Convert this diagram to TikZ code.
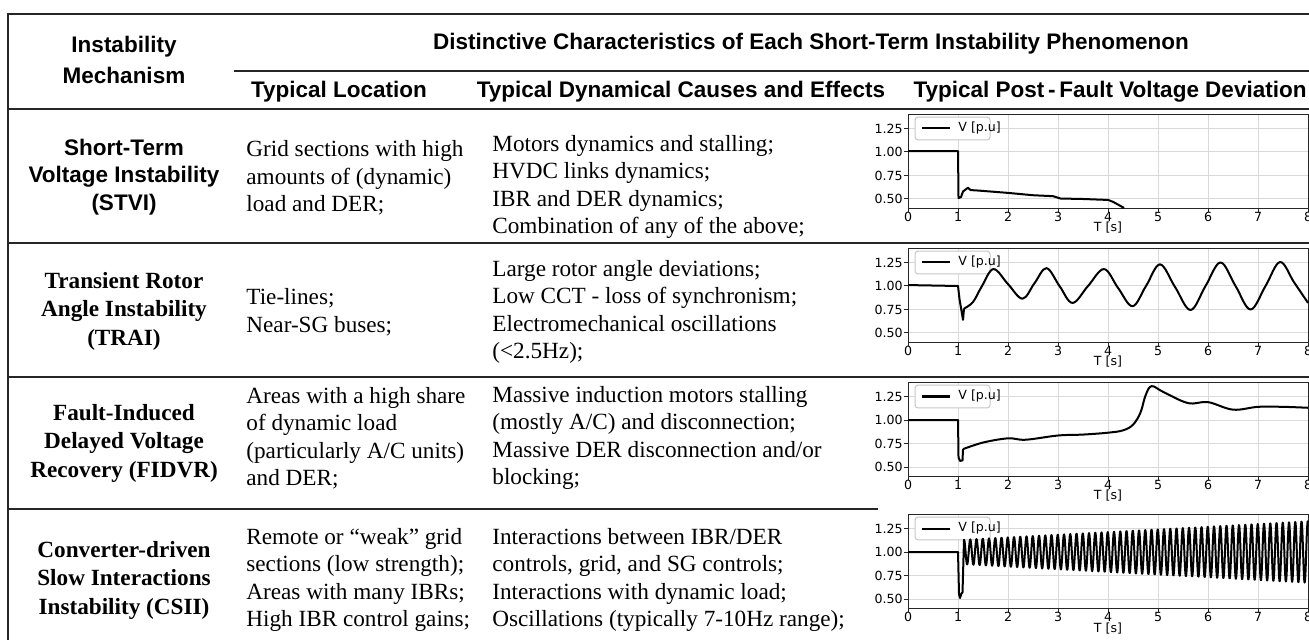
\documentclass[tikz,border=0pt]{standalone}
\usepackage{fontspec}
\setmainfont{Liberation Serif}
\newfontfamily\arialfont{Liberation Sans}
\newfontfamily\plotfont{DejaVu Sans}
\tikzstyle{heading} = [font=\arialfont\bfseries\fontsize{11.25}{15.5}\selectfont, align=center, inner sep=0pt]
\tikzstyle{mechsans} = [font=\arialfont\bfseries\fontsize{11.25}{13.75}\selectfont, align=center, inner sep=0pt]
\tikzstyle{mechserif} = [font=\bfseries\fontsize{11.6}{14.25}\selectfont, align=center, inner sep=0pt]
\tikzstyle{cell} = [font=\fontsize{11.6}{13.75}\selectfont, align=left, anchor=west, inner sep=0pt]
\tikzstyle{rule} = [line width=0.9pt, black!85]
\tikzstyle{gridline} = [line width=0.5pt, black!15]
\tikzstyle{axisframe} = [line width=0.5pt, black!85]
\tikzstyle{trace} = [line width=1pt, black, line join=round]
\tikzstyle{ticklabel} = [font=\plotfont\fontsize{6.3}{7.5}\selectfont, inner sep=0pt]

\newcommand{\voltplot}[3]{%
  \begin{scope}[shift={(454pt,{-0.5pt*(#1+47)})}, x=25pt, y=47pt]
    \foreach \tx in {0,...,8}
      \draw[gridline] (\tx,0.404) -- (\tx,1.4);
    \foreach \vy in {0.5,0.75,1,1.25}
      \draw[gridline] (0,\vy) -- (8,\vy);
    \draw[axisframe] (0,0.404) rectangle (8,1.4);
    \foreach \tx in {0,...,8}{
      \draw[axisframe] (\tx,0.404) -- ++(0,-2pt);
      \node[ticklabel, anchor=north] (#2x\tx) at (\tx,0.36) {\tx};
    }
    \foreach \vy/\lab/\k in {0.5/0.50/a,0.75/0.75/b,1/1.00/c,1.25/1.25/d}{
      \draw[axisframe] (-0.09,\vy) -- (0,\vy);
      \node[ticklabel, anchor=east] (#2y\k) at (-0.1,\vy) {\lab};
    }
    \node[ticklabel, anchor=north, yshift=-7pt] (#2lab) at (4,0.404) {T [s]};
    \draw[line width=0.5pt, black!22, fill=white, rounded corners=1.5pt] (0.14,1.128) rectangle (1.64,1.372);
    \draw[trace] (0.28,1.25) -- (0.84,1.25);
    \node[ticklabel, anchor=west] (#2leg) at (1.0,1.25) {V [p.u]};
    \draw[trace] #3;
  \end{scope}}

\begin{document}
\begin{tikzpicture}[x=0.5pt, y=-0.5pt]
                \useasboundingbox (0,0) rectangle (1309,640);

                \draw[rule] (8,640) -- (8,14) -- (1309,14);
                \draw[line width=0.7pt, black!85] (234,71) -- (1309,71);
                \draw[line width=1.4pt, black!85] (8,109) -- (1309,109);
                \draw[rule] (8,243) -- (1309,243);
                \draw[rule] (8,377) -- (1309,377);
                \draw[rule] (8,509) -- (878,509);

                \node[heading] (mech) at (124,60) {Instability\\Mechanism};
                \node[heading] (distinct) at (811,44) {Distinctive Characteristics of Each Short-Term Instability Phenomenon};
                \node[heading] (loc) at (339,92) {Typical Location};
                \node[heading] (cause) at (681,92) {Typical Dynamical Causes and Effects};
                \node[heading] (dev) at (1110,92) {Typical Post\,-\,Fault Voltage Deviation};

                \node[mechsans] (stvi) at (124,177) {Short-Term\\Voltage Instability\\(STVI)};
                \node[mechserif] (trai) at (124,311) {Transient Rotor\\Angle Instability\\(TRAI)};
                \node[mechserif] (fidvr) at (124,443) {Fault-Induced\\Delayed Voltage\\Recovery (FIDVR)};
                \node[mechserif] (csii) at (124,580) {Converter-driven\\Slow Interactions\\Instability (CSII)};

                \node[cell] (stviloc) at (246,178) {Grid sections with high\\amounts of (dynamic)\\load and DER;};
                \node[cell] (trailoc) at (246,312) {Tie-lines;\\Near-SG buses;};
                \node[cell] (fidvrloc) at (246,438) {Areas with a high share\\of dynamic load\\(particularly A/C units)\\and DER;};
                \node[cell] (csiiloc) at (246,580) {Remote or “weak” grid\\sections (low strength);\\Areas with many IBRs;\\High IBR control gains;};

                \node[cell] (stvicause) at (492,187) {Motors dynamics and stalling;\\HVDC links dynamics;\\IBR and DER dynamics;\\Combination of any of the above;};
                \node[cell] (traicause) at (492,312) {Large rotor angle deviations;\\Low CCT - loss of synchronism;\\Electromechanical oscillations\\(<2.5Hz);};
                \node[cell] (fidvrcause) at (492,438) {Massive induction motors stalling\\(mostly A/C) and disconnection;\\Massive DER disconnection and/or\\blocking;};
                \node[cell] (csiicause) at (492,580) {Interactions between IBR/DER\\controls, grid, and SG controls;\\Interactions with dynamic load;\\Oscillations (typically 7-10Hz range);};

                \voltplot{199}{stvi}{(0,1.01) -- (1,1.01) -- (1.01,0.51) -- (1.06,0.52) -- (1.1,0.58) -- (1.15,0.6) -- (1.2,0.62) -- (1.25,0.595) -- (1.4,0.59) -- (2,0.565) -- (2.5,0.54) -- (2.9,0.53) -- (3.05,0.505) -- (3.5,0.5) -- (4,0.49) -- (4.1,0.47) -- (4.32,0.405)}
                \voltplot{333}{trai}{(0,1.01) -- (1,1) -- (1.03,0.86) -- (1.1,0.64) -- (1.12,0.76) plot[smooth, tension=0.6] coordinates {(1.12,0.76) (1.3,0.83) (1.48,1) (1.71,1.18) (2,1.02) (2.29,0.865) (2.53,1.03) (2.77,1.19) (3.03,1) (3.29,0.82) (3.6,1) (3.92,1.18) (4.2,0.98) (4.49,0.785) (4.76,1) (5.04,1.23) (5.34,0.99) (5.65,0.745) (5.95,1) (6.25,1.25) (6.55,1) (6.85,0.75) (7.15,1) (7.44,1.255) (7.72,1.04) (8,0.82)}}
                \voltplot{467}{fidvr}{(0,1) -- (1,1) -- (1.01,0.6) -- (1.04,0.565) -- (1.09,0.57) -- (1.1,0.69) plot[smooth, tension=0.6] coordinates {(1.1,0.69) (1.5,0.76) (2,0.805) (2.35,0.79) (3,0.835) (3.5,0.845) (4,0.865) (4.3,0.89) (4.5,0.95) (4.65,1.08) (4.75,1.26) (4.87,1.36) (5.1,1.3) (5.6,1.18) (6,1.19) (6.5,1.11) (7,1.14) (7.5,1.14) (8,1.13)}}
                \voltplot{599}{csii}{(0,1) -- (1,1) -- (1.02,0.55) -- (1.04,0.51) -- (1.07,0.56) -- (1.09,0.57) -- plot[domain=0:55.04, samples=1101, variable=\cyc] ({1.12+\cyc/8}, {1+(0.13+0.0036*\cyc)*cos(360*(\cyc-floor(\cyc)))})}
            \end{tikzpicture}
\end{document}
